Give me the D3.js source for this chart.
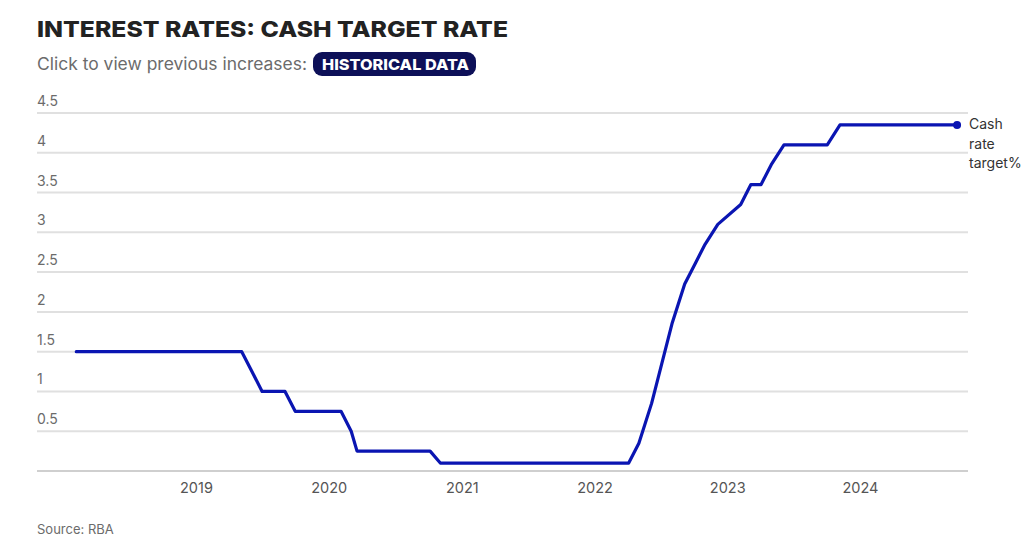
<!DOCTYPE html>
<html>
<head>
<meta charset="utf-8">
<script src="https://cdn.jsdelivr.net/npm/d3@7"></script>
<style>
  html, body { margin: 0; padding: 0; background: #fff; }
  svg { display: block; }
</style>
</head>
<body>
<svg id="chart" width="1024" height="549"></svg>
<script>
// RBA board decision dates and cash rate target (%)
const dates = [
  "2018-02-06","2018-03-06","2018-04-03","2018-05-01","2018-06-05","2018-07-03","2018-08-07","2018-09-04","2018-10-02","2018-11-06","2018-12-04",
  "2019-02-05","2019-03-05","2019-04-02","2019-05-07","2019-06-04","2019-07-02","2019-08-06","2019-09-03","2019-10-01","2019-11-05","2019-12-03",
  "2020-02-04","2020-03-03","2020-03-19","2020-04-07","2020-05-05","2020-06-02","2020-07-07","2020-08-04","2020-09-01","2020-10-06","2020-11-03","2020-12-01",
  "2021-02-02","2021-03-02","2021-04-06","2021-05-04","2021-06-01","2021-07-06","2021-08-03","2021-09-07","2021-10-05","2021-11-02","2021-12-07",
  "2022-02-01","2022-03-01","2022-04-05","2022-05-03","2022-06-07","2022-07-05","2022-08-02","2022-09-06","2022-10-04","2022-11-01","2022-12-06",
  "2023-02-07","2023-03-07","2023-04-04","2023-05-02","2023-06-06","2023-07-04","2023-08-01","2023-09-05","2023-10-03","2023-11-07","2023-12-05",
  "2024-02-06","2024-03-19","2024-05-07","2024-06-18","2024-08-06","2024-09-24"
];
const rates = [
  1.5,1.5,1.5,1.5,1.5,1.5,1.5,1.5,1.5,1.5,1.5,
  1.5,1.5,1.5,1.5,1.25,1.0,1.0,1.0,0.75,0.75,0.75,
  0.75,0.5,0.25,0.25,0.25,0.25,0.25,0.25,0.25,0.25,0.1,0.1,
  0.1,0.1,0.1,0.1,0.1,0.1,0.1,0.1,0.1,0.1,0.1,
  0.1,0.1,0.1,0.35,0.85,1.35,1.85,2.35,2.6,2.85,3.1,
  3.35,3.6,3.6,3.85,4.1,4.1,4.1,4.1,4.1,4.35,4.35,
  4.35,4.35,4.35,4.35,4.35,4.35
];
const yTicks = [0, 0.5, 1, 1.5, 2, 2.5, 3, 3.5, 4, 4.5];
const yLabels = ["", "0.5", "1", "1.5", "2", "2.5", "3", "3.5", "4", "4.5"];
const xTickYears = ["2019", "2020", "2021", "2022", "2023", "2024"];
const seriesName = ["Cash", "rate", "target%"];
const title = "INTEREST RATES: CASH TARGET RATE";
const subtitle = "Click to view previous increases:";
const buttonText = "HISTORICAL DATA";
const source = "Source: RBA";

const parse = d3.timeParse("%Y-%m-%d");
const data = dates.map((d, i) => ({ date: parse(d), value: rates[i] }));

const svg = d3.select("#chart");
const plotLeft = 37, plotRight = 968, plotTop = 113, plotBottom = 471;
const bodyFont = "Inter, Lato, 'Open Sans', sans-serif";

const x = d3.scaleTime()
  .domain([parse("2017-10-21"), parse("2024-10-24")])
  .range([plotLeft, plotRight]);
const y = d3.scaleLinear().domain([0, 4.5]).range([plotBottom, plotTop]);

// Title
svg.append("text")
  .attr("x", 37).attr("y", 37)
  .attr("font-family", "Inter, 'Open Sans', sans-serif")
  .attr("font-weight", 800)
  .attr("font-size", 22)
  .attr("fill", "#222")
  .attr("textLength", 471)
  .attr("lengthAdjust", "spacingAndGlyphs")
  .text(title);

// Subtitle
svg.append("text")
  .attr("x", 37).attr("y", 70)
  .attr("font-family", bodyFont)
  .attr("font-size", 17)
  .attr("fill", "#6b6b6b")
  .attr("textLength", 270)
  .attr("lengthAdjust", "spacingAndGlyphs")
  .text(subtitle);

// Button pill
svg.append("rect")
  .attr("x", 313).attr("y", 52).attr("width", 163).attr("height", 24)
  .attr("rx", 9).attr("ry", 9)
  .attr("fill", "#0d1058");
svg.append("text")
  .attr("x", 322).attr("y", 70)
  .attr("font-family", "Inter, 'Open Sans', sans-serif")
  .attr("font-weight", 800)
  .attr("font-size", 15)
  .attr("fill", "#fff")
  .attr("textLength", 147)
  .attr("lengthAdjust", "spacingAndGlyphs")
  .text(buttonText);

// Gridlines
const g = svg.append("g");
g.selectAll("line.grid")
  .data(yTicks)
  .enter().append("line")
  .attr("class", "grid")
  .attr("x1", plotLeft).attr("x2", plotRight)
  .attr("y1", d => y(d)).attr("y2", d => y(d))
  .attr("stroke", d => d === 0 ? "#cfcfcf" : "#e0e0e0")
  .attr("stroke-width", 2);

// Y labels
g.selectAll("text.ylab")
  .data(yTicks)
  .enter().append("text")
  .attr("class", "ylab")
  .attr("x", plotLeft)
  .attr("y", d => y(d) - 7)
  .attr("font-family", bodyFont)
  .attr("font-size", 14)
  .attr("fill", "#6b6b6b")
  .text((d, i) => yLabels[i]);

// X axis labels
const xAxis = d3.axisBottom(x)
  .tickValues(xTickYears.map(yr => parse(yr + "-01-01")))
  .tickFormat(d3.timeFormat("%Y"))
  .tickSize(0)
  .tickPadding(0);
const xa = svg.append("g")
  .attr("transform", `translate(0, ${plotBottom + 22})`)
  .call(xAxis);
xa.select(".domain").remove();
xa.selectAll("text")
  .attr("dy", 0)
  .attr("font-family", bodyFont)
  .attr("font-size", 14.5)
  .attr("fill", "#555");

// Line
const line = d3.line().x(d => x(d.date)).y(d => y(d.value));
svg.append("path")
  .datum(data)
  .attr("d", line)
  .attr("fill", "none")
  .attr("stroke", "#0a15b2")
  .attr("stroke-width", 3.2)
  .attr("stroke-linejoin", "round")
  .attr("stroke-linecap", "round");

// End dot
const last = data[data.length - 1];
svg.append("circle")
  .attr("cx", x(last.date)).attr("cy", y(last.value))
  .attr("r", 4)
  .attr("fill", "#0a15b2");

// Series label
const lab = svg.append("text")
  .attr("x", 969)
  .attr("y", y(last.value) + 4.5)
  .attr("font-family", bodyFont)
  .attr("font-size", 14)
  .attr("fill", "#333");
seriesName.forEach((s, i) => {
  lab.append("tspan").attr("x", 969).attr("dy", i === 0 ? 0 : 19.5).text(s);
});

// Source
svg.append("text")
  .attr("x", 37).attr("y", 534)
  .attr("font-family", bodyFont)
  .attr("font-size", 13)
  .attr("fill", "#6b6b6b")
  .text(source);
</script>
</body>
</html>
